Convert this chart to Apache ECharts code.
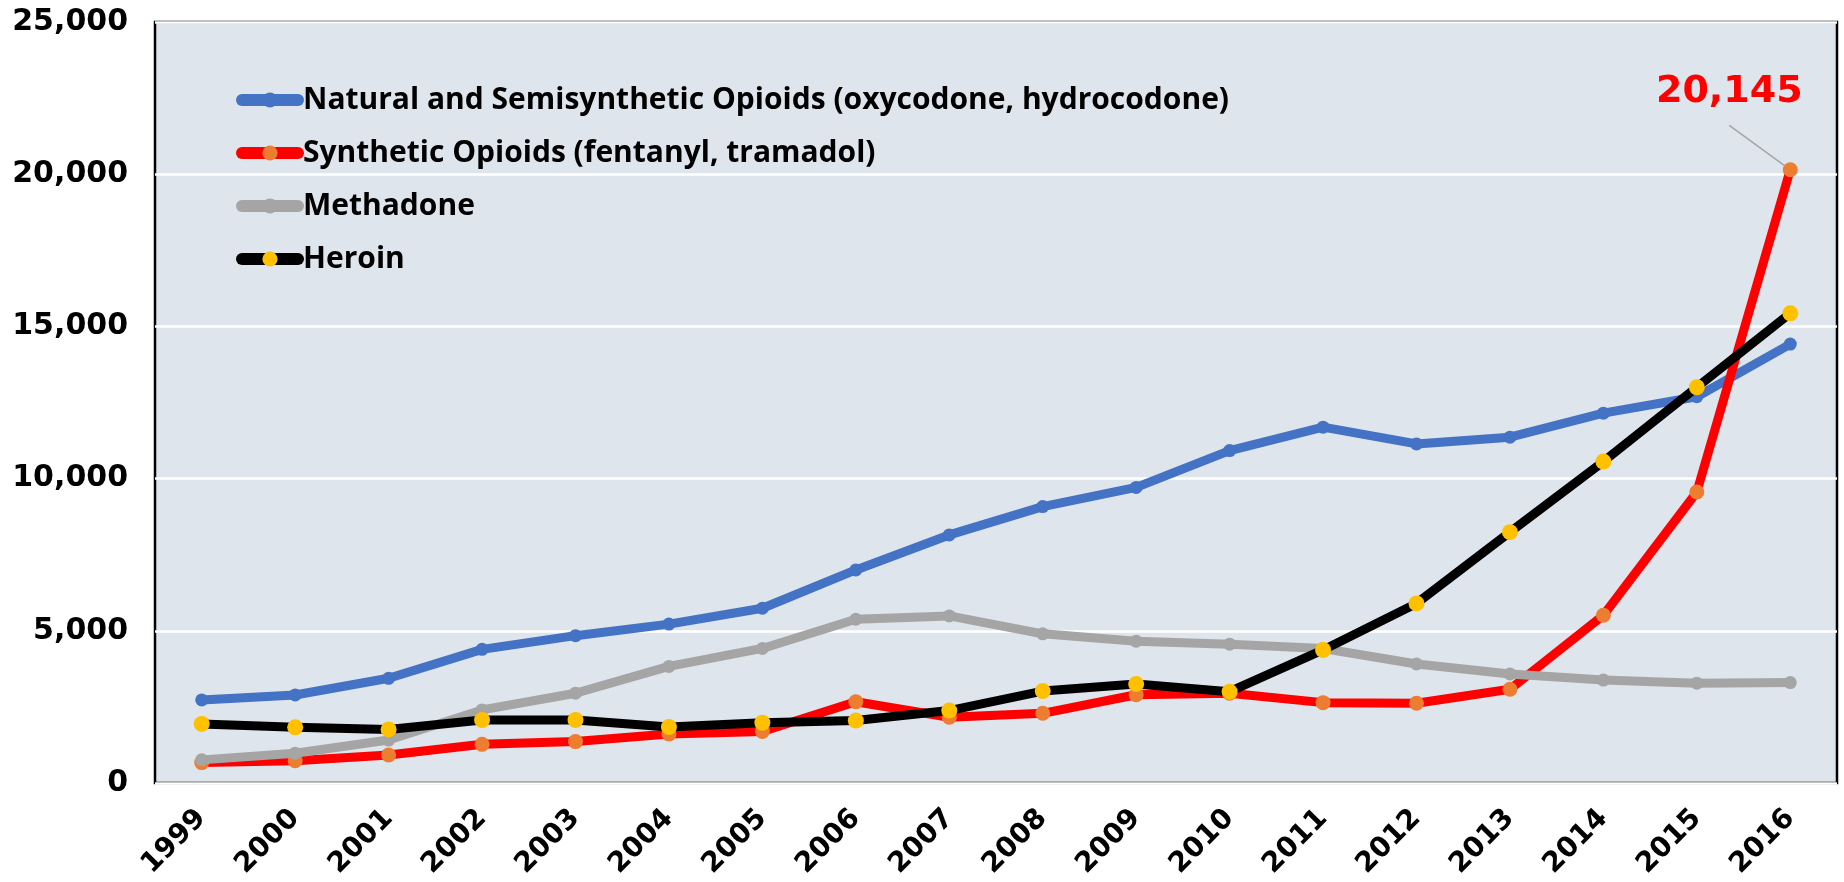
<!DOCTYPE html>
<html>
<head>
<meta charset="utf-8">
<script src="https://cdn.jsdelivr.net/npm/echarts@6/dist/echarts.min.js"></script>
<style>
  html, body { margin: 0; padding: 0; background: #fff; }
  #chart { width: 1844px; height: 882px; }
</style>
</head>
<body>
<div id="chart"></div>
<script>
const years = ['1999', '2000', '2001', '2002', '2003', '2004', '2005', '2006', '2007',
  '2008', '2009', '2010', '2011', '2012', '2013', '2014', '2015', '2016']

const natural = [2730, 2890, 3440, 4390, 4840, 5220, 5740, 7000, 8150, 9080, 9710, 10920, 11690, 11140, 11360, 12150, 12690, 14420]
const synthetic = [670, 730, 920, 1270, 1360, 1610, 1690, 2670, 2160, 2290, 2900, 2950, 2640, 2620, 3080, 5510, 9560, 20145]
const methadone = [760, 980, 1410, 2400, 2950, 3830, 4420, 5380, 5490, 4900, 4660, 4560, 4420, 3910, 3580, 3380, 3280, 3300]
const heroin = [1940, 1830, 1760, 2070, 2070, 1840, 1980, 2050, 2380, 3020, 3250, 3000, 4370, 5900, 8240, 10560, 13000, 15430]

const seriesNames = [
  'Natural and Semisynthetic Opioids (oxycodone, hydrocodone)',
  'Synthetic Opioids (fentanyl, tramadol)',
  'Methadone',
  'Heroin'
]

const chart = echarts.init(document.getElementById('chart'))

const labelFont = 'DejaVu Sans'

// only the last fentanyl point gets the callout
const syntheticData = synthetic.map((v, i) => {
  if (i !== synthetic.length - 1) return v
  return {
    value: v,
    label: {
      show: true,
      position: 'top',
      formatter: p => p.value.toLocaleString('en-US'),
      color: '#ff0000',
      fontFamily: labelFont,
      fontWeight: 'bold',
      fontSize: 38,
      // invisible box, wide at the sides so the leader line leaves from the bottom
      backgroundColor: 'rgba(0,0,0,0)',
      padding: [0, 60, 14, 60]
    },
    labelLine: {
      show: true,
      lineStyle: { color: '#a5a5a5', width: 1.5 }
    }
  }
})

const makeLine = (name, data, lineColor, markColor, size, z) => ({
  name: name,
  type: 'line',
  data: data,
  z: z,
  symbol: 'circle',
  symbolSize: size,
  showAllSymbol: true,
  lineStyle: { color: lineColor, width: 9, cap: 'round', join: 'round' },
  itemStyle: { color: markColor, borderWidth: 0 },
  emphasis: { disabled: true }
})

const redSeries = makeLine(seriesNames[1], syntheticData, '#ff0000', '#ed7d31', 15, 3)
redSeries.labelLayout = { dx: -61, dy: -32 }

const option = {
  animation: false,
  backgroundColor: '#ffffff',
  grid: {
    left: 155,
    right: 7,
    top: 22,
    bottom: 99,
    outerBoundsMode: 'none',
    show: true,
    backgroundColor: '#dee5ec',
    borderColor: '#000000',
    borderWidth: 2.5,
    containLabel: false
  },
  legend: {
    orient: 'vertical',
    left: 231,
    top: 80,
    itemWidth: 56,
    itemHeight: 19,
    itemGap: 23,
    lineStyle: { width: 12, cap: 'round' },
    textStyle: {
      fontFamily: 'Open Sans',
      fontWeight: 'bold',
      fontSize: 30,
      lineHeight: 30,
      color: '#000000'
    },
    data: seriesNames
  },
  xAxis: {
    type: 'category',
    data: years,
    boundaryGap: true,
    axisLine: { show: false },
    axisTick: { show: false },
    axisLabel: {
      rotate: 45,
      margin: 31,
      interval: 0,
      color: '#000000',
      fontFamily: labelFont,
      fontWeight: 'bold',
      fontSize: 28
    }
  },
  yAxis: {
    type: 'value',
    min: 0,
    max: 25000,
    interval: 5000,
    axisLine: { show: false },
    axisTick: { show: false },
    splitLine: { lineStyle: { color: '#ffffff', width: 2.5 } },
    axisLabel: {
      margin: 27,
      color: '#000000',
      fontFamily: labelFont,
      fontWeight: 'bold',
      fontSize: 30,
      formatter: v => v.toLocaleString('en-US')
    }
  },
  series: [
    makeLine(seriesNames[0], natural, '#4472c4', '#4472c4', 13, 2),
    redSeries,
    makeLine(seriesNames[2], methadone, '#a5a5a5', '#a5a5a5', 13, 4),
    makeLine(seriesNames[3], heroin, '#000000', '#ffc000', 16, 5)
  ]
}

chart.setOption(option)

window.addEventListener('resize', () => {
  chart.resize()
})
</script>
</body>
</html>
